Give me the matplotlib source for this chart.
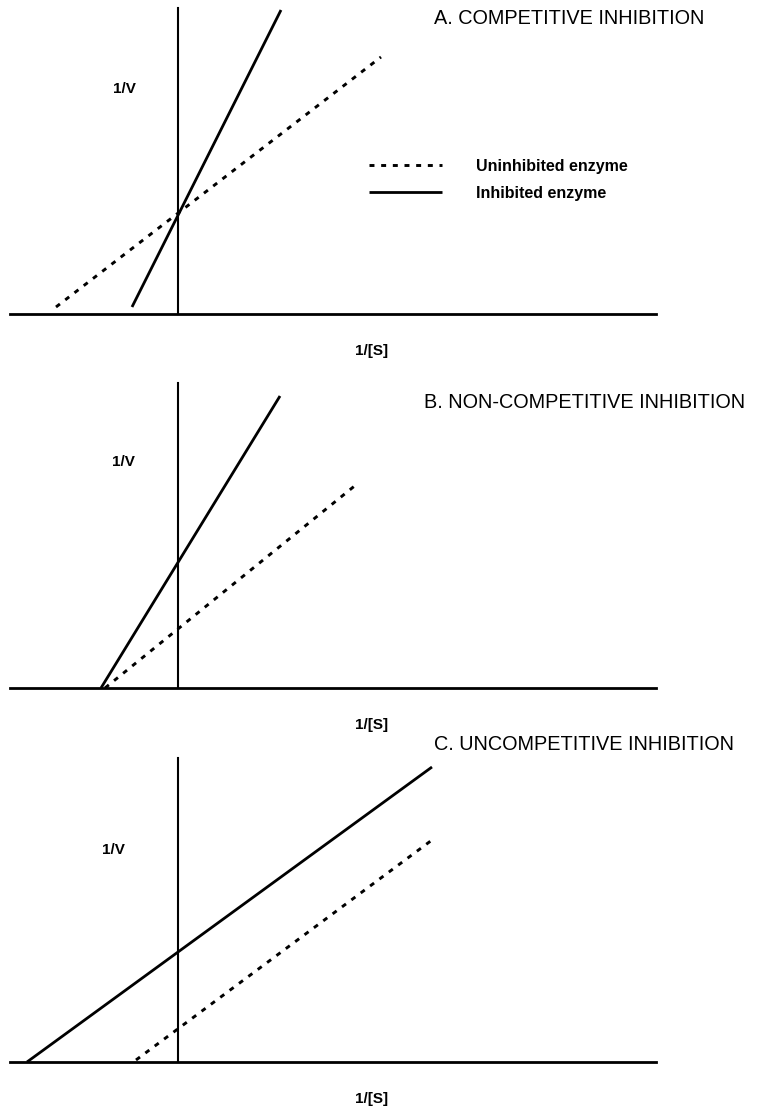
import matplotlib
matplotlib.use("Agg")
import matplotlib.pyplot as plt

plt.rcParams['font.family'] = ['Liberation Sans', 'DejaVu Sans']

# Panel titles and axis labels
titles = ["A. COMPETITIVE INHIBITION",
          "B. NON-COMPETITIVE INHIBITION",
          "C. UNCOMPETITIVE INHIBITION"]
y_label = "1/V"
x_label = "1/[S]"
legend_labels = ["Uninhibited enzyme", "Inhibited enzyme"]

# Line end points (1/[S], 1/V), arbitrary units
a_uninhib_x = [-1.22, 2.03]
a_uninhib_y = [0.07, 2.57]
a_inhib_x = [-0.46, 1.03]
a_inhib_y = [0.07, 3.04]

b_uninhib_x = [-0.73, 1.79]
b_uninhib_y = [0.0, 2.04]
b_inhib_x = [-0.77, 1.02]
b_inhib_y = [0.0, 2.92]

c_uninhib_x = [-0.42, 2.54]
c_uninhib_y = [0.02, 2.22]
c_inhib_x = [-1.51, 2.54]
c_inhib_y = [0.0, 2.95]

W, H = 758, 1114
X_LEFT, X_RIGHT, X_ORIGIN = 10, 656, 178


def draw_panel(fig, top, bottom, title, title_x, title_y, ylab_pos, uninhib, inhib, legend=False):
    """One Lineweaver-Burk panel; top/bottom and positions are in pixels"""
    ax = fig.add_axes([X_LEFT / W, 1 - bottom / H,
                       (X_RIGHT - X_LEFT) / W, (bottom - top) / H])
    ax.set_xlim((X_LEFT - X_ORIGIN) / 100, (X_RIGHT - X_ORIGIN) / 100)
    ax.set_ylim(0, (bottom - top) / 100)

    # axes crossing at the origin, no ticks
    ax.spines['left'].set_position(('data', 0))
    ax.spines['left'].set_linewidth(1.5)
    ax.spines['bottom'].set_linewidth(2.0)
    ax.spines['top'].set_visible(False)
    ax.spines['right'].set_visible(False)
    ax.set_xticks([])
    ax.set_yticks([])

    ax.plot(uninhib[0], uninhib[1], color='black', lw=2.1, ls=(0, (1.7, 2.3)),
            solid_capstyle='butt', clip_on=False, label=legend_labels[0])
    ax.plot(inhib[0], inhib[1], color='black', lw=2.0,
            solid_capstyle='butt', clip_on=False, label=legend_labels[1])

    h = bottom - top
    ax.set_ylabel(y_label, rotation=0, fontsize=11, fontweight='bold',
                  ha='center', va='center')
    ax.yaxis.set_label_coords((ylab_pos[0] - X_LEFT) / (X_RIGHT - X_LEFT),
                              (bottom - ylab_pos[1]) / h)
    ax.set_xlabel(x_label, fontsize=11, fontweight='bold', va='center')
    ax.xaxis.set_label_coords((372 - X_LEFT) / (X_RIGHT - X_LEFT), -37 / h)

    ax.text((title_x - X_LEFT) / (X_RIGHT - X_LEFT), (bottom - title_y) / h, title,
            transform=ax.transAxes, ha='left', va='center', fontsize=14.3,
            clip_on=False)

    if legend:
        ax.legend(loc='center left', bbox_to_anchor=((369 - X_LEFT) / (X_RIGHT - X_LEFT),
                                                     (bottom - 180) / h),
                  frameon=False, borderpad=0, borderaxespad=0,
                  handlelength=4.6, handletextpad=2.1, labelspacing=0.75,
                  prop={'size': 11.5, 'weight': 'bold'})
    return ax


def main():
    fig = plt.figure(figsize=(W / 100, H / 100), dpi=100)

    draw_panel(fig, 8, 314, titles[0], 434, 18, (124, 89),
               (a_uninhib_x, a_uninhib_y), (a_inhib_x, a_inhib_y), legend=True)
    draw_panel(fig, 383, 688, titles[1], 424, 403, (123, 462),
               (b_uninhib_x, b_uninhib_y), (b_inhib_x, b_inhib_y))
    draw_panel(fig, 758, 1062, titles[2], 434, 745, (113, 850),
               (c_uninhib_x, c_uninhib_y), (c_inhib_x, c_inhib_y))

    fig.savefig("out.png", dpi=100)


if __name__ == "__main__":
    main()
